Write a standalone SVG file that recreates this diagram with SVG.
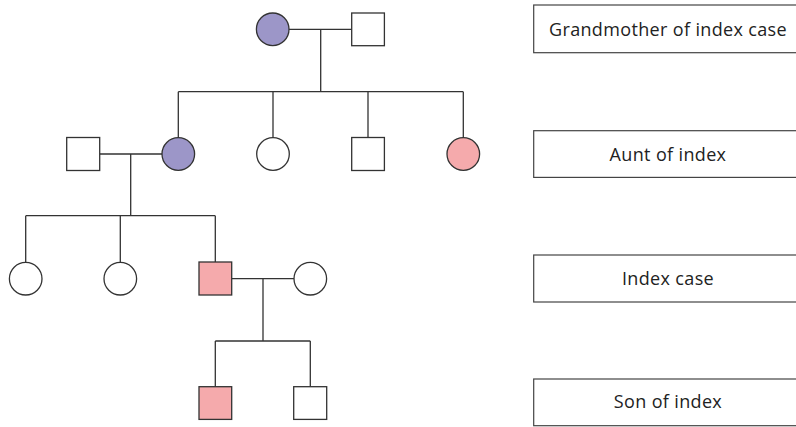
<svg xmlns="http://www.w3.org/2000/svg" width="796" height="427" viewBox="0 0 796 427">
<style>
.p{stroke:#333;stroke-width:1.3;}
.w{fill:#fff}
.pu{fill:#9c96c8}
.pk{fill:#f5aaac}
.c{fill:none;stroke:#333;stroke-width:1.3}
.lb{fill:#fff;stroke:#444;stroke-width:1.2}
.t{font-family:"Open Sans","Liberation Sans",sans-serif;font-size:18px;letter-spacing:0.35px;fill:#222;text-anchor:middle}
</style>
<g id="connectors">
<path class="c" d="M289 29.3H352M320.7 29.3V91.7M178.3 91.7H463.3M178.3 91.7V138M273 91.7V138M368 91.7V137.5M463.3 91.7V138"/>
<path class="c" d="M99.7 154H162M130.7 154V215.7M25.7 215.7H215.3M25.7 215.7V262.5M120.3 215.7V262.5M215.3 215.7V262"/>
<path class="c" d="M231.7 278.7H294M263 278.7V341M215.3 341H310.3M215.3 341V386.7M310.3 341V386.7"/>
</g>
<g id="grandmother"><circle class="p pu" cx="272.7" cy="29.3" r="16.3"/></g>
<g id="grandfather"><rect class="p w" x="351.7" y="13" width="32.7" height="32.7"/></g>
<g id="aunt-husband"><rect class="p w" x="66.7" y="137.5" width="33" height="33"/></g>
<g id="aunt"><circle class="p pu" cx="178.3" cy="154" r="16.3"/></g>
<g id="sib2"><circle class="p w" cx="273" cy="154" r="16.3"/></g>
<g id="sib3"><rect class="p w" x="351.7" y="137.5" width="32.7" height="33"/></g>
<g id="sib4"><circle class="p pk" cx="463.3" cy="154" r="16.3"/></g>
<g id="cousin1"><circle class="p w" cx="25.7" cy="278.7" r="16.3"/></g>
<g id="cousin2"><circle class="p w" cx="120.3" cy="278.7" r="16.3"/></g>
<g id="index"><rect class="p pk" x="199" y="262" width="32.7" height="33"/></g>
<g id="index-wife"><circle class="p w" cx="310.3" cy="278.7" r="16.3"/></g>
<g id="son"><rect class="p pk" x="199" y="386.7" width="32.7" height="32.7"/></g>
<g id="son2"><rect class="p w" x="293.7" y="386.7" width="33" height="32.7"/></g>
<g id="label-grandmother"><rect class="lb" x="533.7" y="5" width="270" height="47.7"/><text class="t" x="668" y="35.5">Grandmother of index case</text></g>
<g id="label-aunt"><rect class="lb" x="533.7" y="130.7" width="270" height="46.7"/><text class="t" x="668" y="161">Aunt of index</text></g>
<g id="label-index"><rect class="lb" x="533.7" y="255" width="270" height="47"/><text class="t" x="668" y="285">Index case</text></g>
<g id="label-son"><rect class="lb" x="533.7" y="379" width="270" height="46.7"/><text class="t" x="668" y="408">Son of index</text></g>
</svg>
